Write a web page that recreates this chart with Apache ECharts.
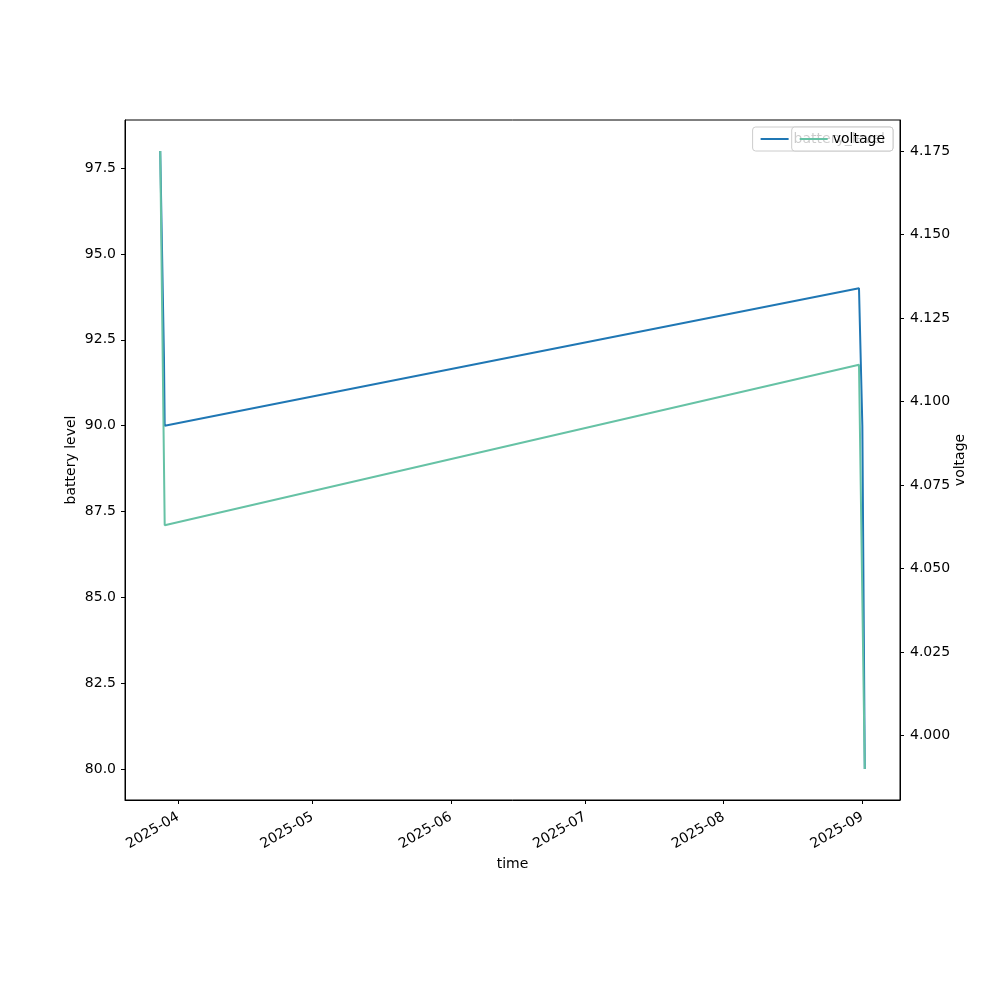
<!DOCTYPE html>
<html>
<head>
<meta charset="utf-8">
<script src="https://cdn.jsdelivr.net/npm/echarts@6/dist/echarts.min.js"></script>
<style>
  html, body { margin: 0; padding: 0; background: #fff; }
  #chart { width: 1000px; height: 1000px; }
</style>
</head>
<body>
<div id="chart"></div>
<script>
// battery readings
var batteryTimes = ['2025-03-28T00:00', '2025-03-28T20:00', '2025-03-29T00:00', '2025-08-31T06:00', '2025-09-01T00:00', '2025-09-01T13:00'];
var batteryLevel = [98, 92, 90, 94, 90, 80];
// voltage readings
var voltageTimes = ['2025-03-28T00:00', '2025-03-29T00:00', '2025-08-31T06:00', '2025-09-01T13:00'];
var voltage = [4.175, 4.063, 4.111, 3.99];
// tick labels
var monthTicks = ['2025-04', '2025-05', '2025-06', '2025-07', '2025-08', '2025-09'];
var batteryTicks = [80, 82.5, 85, 87.5, 90, 92.5, 95, 97.5];
var voltageTicks = [4.000, 4.025, 4.050, 4.075, 4.100, 4.125, 4.150, 4.175];

var FONT = 'DejaVu Sans';
var FS = 14;

function ts(s) { return new Date(s + (s.length > 7 ? ':00Z' : '-01T00:00:00Z')).getTime(); }
function pairs(times, vals) {
    var out = [];
    times.forEach(function (t, i) { out.push([ts(t), vals[i]]); });
    return out;
}
// matplotlib style 5% margins
function padded(arr) {
    var lo = Math.min.apply(null, arr), hi = Math.max.apply(null, arr);
    var m = (hi - lo) * 0.05;
    return [lo - m, hi + m];
}

var allT = batteryTimes.concat(voltageTimes).map(ts);
var xr = padded(allT);
var yl = padded(batteryLevel);
var yr = padded(voltage);
var monthStamps = monthTicks.map(ts);

var chart = echarts.init(document.getElementById('chart'));
chart.setOption({
    animation: false,
    textStyle: { fontFamily: FONT },
    grid: {
        left: 125, right: 100, top: 120, bottom: 200,
        show: true, borderColor: '#000', borderWidth: 1, backgroundColor: 'transparent'
    },
    legend: [
        {
            data: ['battery_level'], right: 107, top: 127, z: 5,
            icon: 'rect', itemWidth: 28, itemHeight: 2, itemGap: 8,
            padding: [5, 8, 5, 8],
            backgroundColor: 'rgba(255,255,255,0.8)', borderColor: '#ccc', borderWidth: 1, borderRadius: 3,
            textStyle: { fontFamily: FONT, fontSize: FS, color: '#000' }
        },
        {
            data: ['voltage'], right: 107, top: 127, z: 6,
            icon: 'rect', itemWidth: 28, itemHeight: 2,
            padding: [5, 8, 5, 8],
            backgroundColor: 'rgba(255,255,255,0.8)', borderColor: '#ccc', borderWidth: 1, borderRadius: 3,
            textStyle: { fontFamily: FONT, fontSize: FS, color: '#000' }
        }
    ],
    xAxis: {
        type: 'value', min: xr[0], max: xr[1],
        name: 'time', nameLocation: 'middle', nameGap: 52,
        nameTextStyle: { fontFamily: FONT, fontSize: FS, color: '#000' },
        axisLine: { show: true, lineStyle: { color: '#000' } },
        axisTick: { show: true, length: 4, customValues: monthStamps, lineStyle: { color: '#000' } },
        axisLabel: {
            customValues: monthStamps, rotate: 30, margin: 16,
            fontFamily: FONT, fontSize: FS, color: '#000',
            formatter: function (v) {
                var d = new Date(v);
                var m = d.getUTCMonth() + 1;
                return d.getUTCFullYear() + '-' + (m < 10 ? '0' + m : m);
            }
        },
        splitLine: { show: false }
    },
    yAxis: [
        {
            type: 'value', min: yl[0], max: yl[1], position: 'left',
            name: 'battery level', nameLocation: 'middle', nameGap: 47, nameRotate: 90,
            nameMoveOverlap: false,
            nameTextStyle: { fontFamily: FONT, fontSize: FS, color: '#000' },
            axisLine: { show: true, lineStyle: { color: '#000' } },
            axisTick: { show: true, length: 4, customValues: batteryTicks, lineStyle: { color: '#000' } },
            axisLabel: {
                customValues: batteryTicks, fontFamily: FONT, fontSize: FS, color: '#000', margin: 9,
                formatter: function (v) { return v.toFixed(1); }
            },
            splitLine: { show: false }
        },
        {
            type: 'value', min: yr[0], max: yr[1], position: 'right',
            name: 'voltage', nameLocation: 'middle', nameGap: 53, nameRotate: 90,
            nameMoveOverlap: false,
            nameTextStyle: { fontFamily: FONT, fontSize: FS, color: '#000' },
            axisLine: { show: true, lineStyle: { color: '#000' } },
            axisTick: { show: true, length: 4, customValues: voltageTicks, lineStyle: { color: '#000' } },
            axisLabel: {
                customValues: voltageTicks, fontFamily: FONT, fontSize: FS, color: '#000', margin: 10,
                formatter: function (v) { return v.toFixed(3); }
            },
            splitLine: { show: false }
        }
    ],
    series: [
        {
            name: 'battery_level', type: 'line', yAxisIndex: 0,
            data: pairs(batteryTimes, batteryLevel),
            symbol: 'none', color: '#1f77b4',
            lineStyle: { width: 2, color: '#1f77b4' }
        },
        {
            name: 'voltage', type: 'line', yAxisIndex: 1,
            data: pairs(voltageTimes, voltage),
            symbol: 'none', color: '#66c2a5',
            lineStyle: { width: 2, color: '#66c2a5' }
        }
    ]
});
</script>
</body>
</html>
